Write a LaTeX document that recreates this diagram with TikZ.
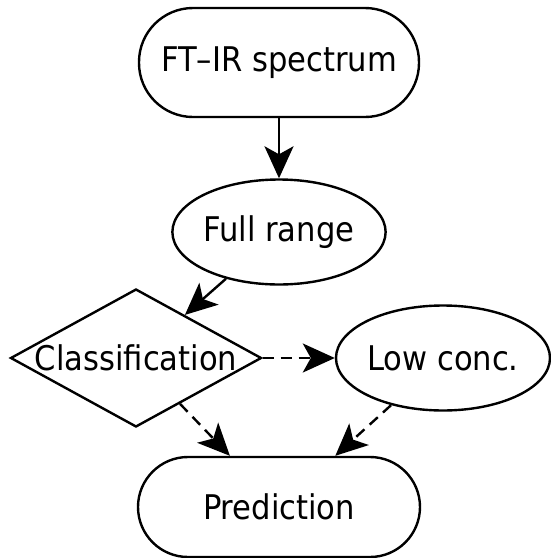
\documentclass[tikz,border=0pt]{standalone}
\usepackage{fontspec}
\setmainfont{DejaVu Sans Condensed}
\usetikzlibrary{arrows.meta,shapes.geometric}

\tikzset{
  stadium/.style={draw, line width=1.2pt, rounded corners=#1, inner sep=0pt},
  oval/.style={draw, ellipse, line width=1.2pt, minimum width=106.5pt, minimum height=52.5pt, inner sep=0pt},
  choice/.style={draw, diamond, line width=1.2pt, minimum width=125.5pt, minimum height=69pt, inner sep=0pt},
  flow/.style={line width=1.2pt, -{Stealth[length=16pt,width=14.5pt,inset=4pt]}},
  dflow/.style={flow, dash pattern=on 5.5pt off 3.5pt},
}

\begin{document}
\begin{tikzpicture}[x=0.5pt, y=-0.5pt, font=\fontsize{17}{20}\selectfont]
	%%%%% START %%%%%
	\useasboundingbox (0,0) rectangle (551,558);

	\node[stadium=27pt, minimum width=140pt, minimum height=54.5pt] (spec) at (279,62.5) {FT--IR spectrum};
	\node[oval] (full) at (279,232) {Full range};

	\node[choice] (cls) at (136,358) {};
	\node (clstext) at (cls) {Classification};
	\node[oval] (low) at (443,358) {Low conc.};

	\node[stadium=25pt, minimum width=141pt, minimum height=50pt] (pred) at (279,507) {Prediction};

	\draw[flow] (spec) -- (full);
	\draw[flow] (full) -- (cls);
	\draw[dflow] (cls) -- (low);
	\draw[dflow] (cls) -- (pred);
	\draw[dflow] (low) -- (pred);
	%%%%% END %%%%%
\end{tikzpicture}
\end{document}
